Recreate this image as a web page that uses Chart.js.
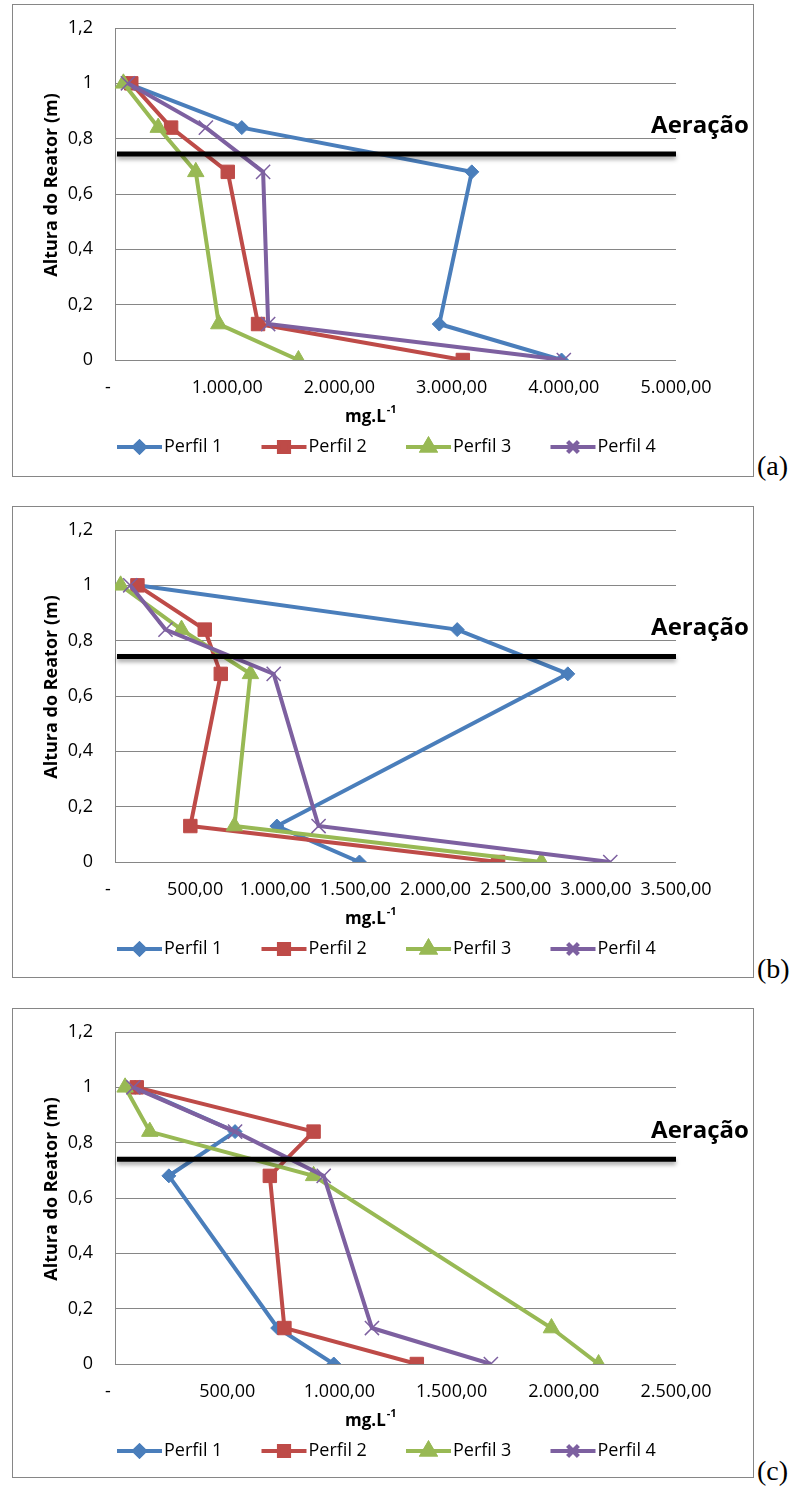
<!DOCTYPE html>
<html>
<head>
<meta charset="utf-8">
<script src="https://cdn.jsdelivr.net/npm/chart.js@4"></script>
<style>
  body { margin: 0; background: #fff; width: 793px; height: 1487px; position: relative; overflow: hidden; }
  canvas { position: absolute; left: 12px; }
  .painel { position: absolute; left: 757px; font-family: "Liberation Serif", serif; font-size: 28px; line-height: 28px; color: #000; }
</style>
</head>
<body>
<canvas id="graficoA" width="742" height="473" style="top:4px"></canvas>
<canvas id="graficoB" width="742" height="472" style="top:506px"></canvas>
<canvas id="graficoC" width="742" height="470" style="top:1008px"></canvas>
<div class="painel" style="top:452px">(a)</div>
<div class="painel" style="top:955px">(b)</div>
<div class="painel" style="top:1457px">(c)</div>
<script>
// alturas do reator (m), iguais nos três gráficos
const alturas = [1, 0.84, 0.68, 0.13, 0];
const nomes = ['Perfil 1', 'Perfil 2', 'Perfil 3', 'Perfil 4'];
const cores = ['#4A7EBB', '#BE4B48', '#98B954', '#7D60A0'];
const marcadores = ['rectRot', 'rect', 'triangle', 'crossRot'];
const raios = [7, 9.5, 9.5, 10];

// (a) concentrações em mg/L
const a_perfil1 = [110, 1130, 3180, 2890, 3980];
const a_perfil2 = [145, 500, 1005, 1275, 3100];
const a_perfil3 = [75, 385, 720, 925, 1635];
const a_perfil4 = [115, 810, 1320, 1365, 4000];

// (b)
const b_perfil1 = [140, 2135, 2825, 1010, 1525];
const b_perfil2 = [140, 560, 660, 470, 2390];
const b_perfil3 = [35, 415, 845, 745, 2660];
const b_perfil4 = [95, 315, 990, 1270, 3090];

// (c)
const c_perfil1 = [90, 535, 240, 725, 975];
const c_perfil2 = [97, 885, 690, 755, 1345];
const c_perfil3 = [45, 155, 885, 1945, 2155];
const c_perfil4 = [82, 535, 930, 1145, 1675];

// eixos e linha de aeração
const xMaximos = [5000, 3500, 2500];
const xPassos = [1000, 500, 500];
const yTicks = [0, 0.2, 0.4, 0.6, 0.8, 1, 1.2];
const nivelAeracao = [0.745, 0.743, 0.74];

const FONTE = '"Open Sans", Lato, sans-serif';
const CINZA = '#868686';

// 1.000,00
function formatoBR(v) {
  const inteiro = Math.round(v).toString().replace(/\B(?=(\d{3})+(?!\d))/g, '.');
  return inteiro + ',00';
}

function formatoY(v) {
  const r = Math.round(v * 10) / 10;
  return r.toString().replace('.', ',');
}

function desenhaMarcador(ctx, estilo, raio, x, y) {
  Chart.helpers.drawPoint(ctx, {
    pointStyle: estilo, radius: raio, rotation: 0, borderWidth: estilo === 'crossRot' ? 1.5 : 1
  }, x, y);
  if (estilo !== 'crossRot') ctx.fill();
  ctx.stroke();
}

const extras = {
  id: 'extras',
  afterDatasetsDraw(chart, args, opts) {
    const ctx = chart.ctx;
    const area = chart.chartArea;
    const y = chart.scales.y.getPixelForValue(opts.aeracao);
    // linha preta de aeração com sombra
    ctx.save();
    ctx.shadowColor = 'rgba(0,0,0,0.35)';
    ctx.shadowBlur = 4;
    ctx.shadowOffsetY = 3;
    ctx.strokeStyle = '#000';
    ctx.lineWidth = 5;
    ctx.beginPath();
    ctx.moveTo(area.left + 2, y);
    ctx.lineTo(area.right, y);
    ctx.stroke();
    ctx.restore();

    ctx.save();
    ctx.fillStyle = '#000';
    ctx.font = 'bold 24px ' + FONTE;
    ctx.textAlign = 'center';
    ctx.textBaseline = 'middle';
    ctx.fillText('Aeração', 688, y - 28);
    ctx.restore();
  },
  afterDraw(chart) {
    const ctx = chart.ctx;
    const W = chart.width, H = chart.height;
    ctx.save();
    // moldura
    ctx.strokeStyle = CINZA;
    ctx.lineWidth = 1;
    ctx.strokeRect(0.5, 0.5, W - 1, H - 1);

    // título do eixo Y
    ctx.fillStyle = '#000';
    ctx.save();
    ctx.translate(40, 181);
    ctx.rotate(-Math.PI / 2);
    ctx.font = 'bold 18px ' + FONTE;
    ctx.textAlign = 'center';
    ctx.textBaseline = 'middle';
    ctx.fillText('Altura do Reator (m)', 0, 0);
    ctx.restore();

    // título do eixo X: mg.L-1
    ctx.font = 'bold 17px ' + FONTE;
    ctx.textAlign = 'left';
    ctx.textBaseline = 'middle';
    const xt = 333, yt = 413;
    ctx.fillText('mg.L', xt, yt);
    const w = ctx.measureText('mg.L').width;
    ctx.font = 'bold 11px ' + FONTE;
    ctx.fillText('-1', xt + w + 1, yt - 7);

    // legenda
    const yl = 443;
    chart.data.datasets.forEach((ds, i) => {
      const x0 = 105 + i * 144.5;
      ctx.strokeStyle = cores[i];
      ctx.lineWidth = 4;
      ctx.beginPath();
      ctx.moveTo(x0, yl);
      ctx.lineTo(x0 + 45, yl);
      ctx.stroke();
      ctx.fillStyle = cores[i];
      ctx.strokeStyle = cores[i];
      desenhaMarcador(ctx, marcadores[i], raios[i] * 0.75, x0 + 22.5, yl);
      ctx.fillStyle = '#000';
      ctx.font = '18px ' + FONTE;
      ctx.textAlign = 'left';
      ctx.textBaseline = 'middle';
      ctx.fillText(ds.label, x0 + 47, yl);
    });
    ctx.restore();
  }
};

function criaGrafico(id, series, xMax, xPasso, aeracao) {
  const canvas = document.getElementById(id);
  const H = canvas.height;
  const datasets = series.map((valores, i) => ({
    label: nomes[i],
    data: valores.map((v, k) => ({ x: v, y: alturas[k] })),
    showLine: true,
    borderColor: cores[i],
    backgroundColor: cores[i],
    borderWidth: 4,
    pointStyle: marcadores[i],
    pointRadius: raios[i],
    pointBorderWidth: i === 3 ? 1.5 : 1,
    pointBorderColor: cores[i],
    pointBackgroundColor: cores[i],
    order: 4 - i,
    tension: 0
  }));

  return new Chart(canvas, {
    type: 'scatter',
    data: { datasets },
    options: {
      responsive: false,
      animation: false,
      layout: { padding: { left: 0, right: 78, top: 24, bottom: 0 } },
      plugins: {
        legend: { display: false },
        tooltip: { enabled: false },
        extras: { aeracao }
      },
      scales: {
        x: {
          type: 'linear',
          min: 0,
          max: xMax,
          afterFit(scale) {
            scale.height = H - 356;
            scale.paddingLeft = 0;
            scale.paddingRight = 0;
          },
          grid: { display: false, drawTicks: false },
          border: { display: false },
          ticks: {
            stepSize: xPasso,
            padding: 17,
            maxRotation: 0,
            autoSkip: false,
            color: '#000',
            font: { family: FONTE, size: 18 },
            callback: v => v === 0 ? '-   ' : formatoBR(v)
          }
        },
        y: {
          type: 'linear',
          min: 0,
          max: 1.2,
          afterFit(scale) {
            scale.width = 103;
            scale.paddingTop = 0;
            scale.paddingBottom = 0;
          },
          afterBuildTicks(scale) { scale.ticks = yTicks.map(v => ({ value: v })); },
          grid: { color: CINZA, lineWidth: 1, drawTicks: false },
          border: { display: true, color: CINZA, width: 1 },
          ticks: {
            padding: 22,
            color: '#000',
            font: { family: FONTE, size: 18 },
            callback: v => formatoY(v)
          }
        }
      }
    },
    plugins: [extras]
  });
}

criaGrafico('graficoA', [a_perfil1, a_perfil2, a_perfil3, a_perfil4], xMaximos[0], xPassos[0], nivelAeracao[0]);
criaGrafico('graficoB', [b_perfil1, b_perfil2, b_perfil3, b_perfil4], xMaximos[1], xPassos[1], nivelAeracao[1]);
criaGrafico('graficoC', [c_perfil1, c_perfil2, c_perfil3, c_perfil4], xMaximos[2], xPassos[2], nivelAeracao[2]);
</script>
</body>
</html>
